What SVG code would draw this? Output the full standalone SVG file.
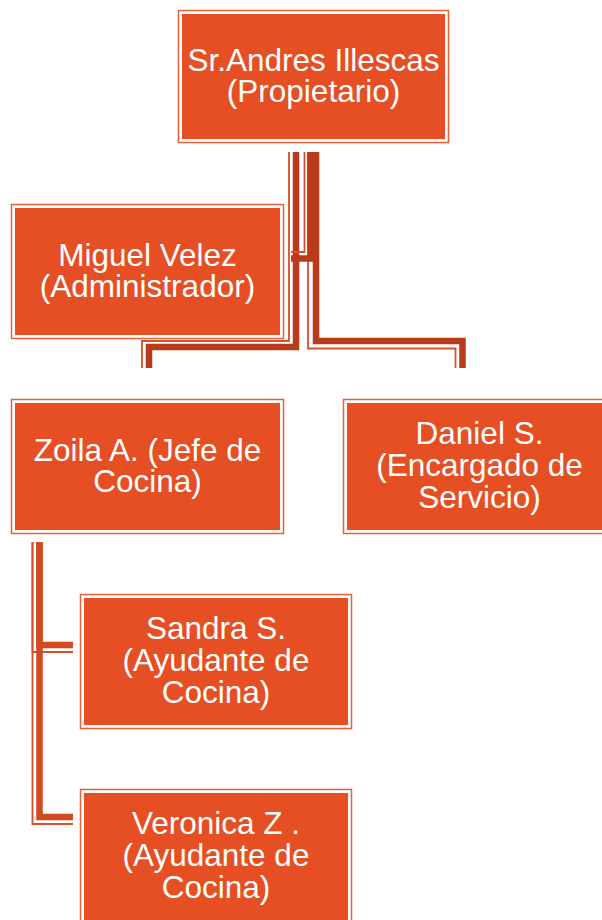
<svg xmlns="http://www.w3.org/2000/svg" width="602" height="920" viewBox="0 0 602 920">
<style>
.o{fill:#ffffff;stroke:#E8603A;stroke-width:1.5}
.f{fill:#E54F23}
.t{fill:#ffffff;font-family:"Liberation Sans",Arial,sans-serif;font-size:31.5px;text-anchor:middle}
.k1{fill:none;stroke:#BA3B1B;stroke-width:6.5;stroke-linejoin:miter}
.k2{fill:none;stroke:#D24A21;stroke-width:6.5;stroke-linejoin:miter}
.th{fill:none;stroke:#D6502C;stroke-width:1.8;stroke-linejoin:miter}
</style>
<rect width="602" height="920" fill="#ffffff"/>
<g id="connectors">
  <path class="th" d="M289,152 V341 H142 V368"/>
  <path class="k1" d="M296,152 V347 H149 V368"/>
  <path class="th" d="M308,152 V348.5 H455.5 V368"/>
  <path class="k1" d="M316,152 V341 H462.5 V368"/>
  <path class="th" d="M304.5,152 V252 H291"/>
  <path class="k1" d="M310.5,152 V258.5 H291"/>
  <path class="th" d="M32.5,542 V652 H73"/>
  <path class="th" d="M32.5,542 V824 H73"/>
  <path class="k2" d="M39.5,542 V645 H73"/>
  <path class="k2" d="M39.5,542 V817 H73"/>
</g>
<g id="propietario">
  <rect class="o" x="178.5" y="10.5" width="270" height="132"/>
  <rect class="f" x="182" y="14" width="263" height="125"/>
  <text class="t" x="313.5" y="70.5">Sr.Andres Illescas</text>
  <text class="t" x="313.5" y="102">(Propietario)</text>
</g>
<g id="miguel">
  <rect class="o" x="11.5" y="204.5" width="272" height="134"/>
  <rect class="f" x="15" y="208" width="265" height="127"/>
  <text class="t" x="147.5" y="265.5">Miguel Velez</text>
  <text class="t" x="147.5" y="297">(Administrador)</text>
</g>
<g id="zoila">
  <rect class="o" x="11.5" y="399.5" width="272" height="134"/>
  <rect class="f" x="15" y="403" width="265" height="127"/>
  <text class="t" x="147.5" y="460.5">Zoila A. (Jefe de</text>
  <text class="t" x="147.5" y="492">Cocina)</text>
</g>
<g id="daniel">
  <rect class="o" x="343.5" y="399.5" width="272" height="134"/>
  <rect class="f" x="347" y="403" width="265" height="127"/>
  <text class="t" x="479.5" y="444">Daniel S.</text>
  <text class="t" x="479.5" y="476">(Encargado de</text>
  <text class="t" x="479.5" y="508">Servicio)</text>
</g>
<g id="sandra">
  <rect class="o" x="80.5" y="594.5" width="271" height="134"/>
  <rect class="f" x="84" y="598" width="264" height="127"/>
  <text class="t" x="216" y="639">Sandra S.</text>
  <text class="t" x="216" y="671">(Ayudante de</text>
  <text class="t" x="216" y="703">Cocina)</text>
</g>
<g id="veronica">
  <rect class="o" x="80.5" y="789.5" width="271" height="134"/>
  <rect class="f" x="84" y="793" width="264" height="127"/>
  <text class="t" x="216" y="834">Veronica Z .</text>
  <text class="t" x="216" y="866">(Ayudante de</text>
  <text class="t" x="216" y="898">Cocina)</text>
</g>
</svg>
